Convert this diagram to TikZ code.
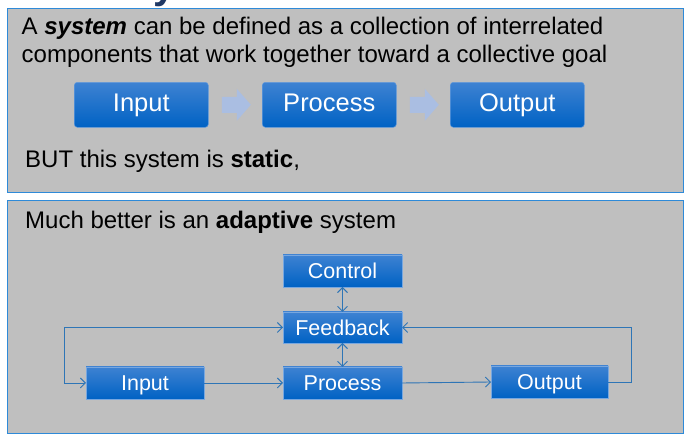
\documentclass[tikz,border=0pt]{standalone}
\usepackage{fontspec}
\setmainfont{Liberation Sans}
\usetikzlibrary{positioning, arrows.meta, calc}
\definecolor{sysgray}{RGB}{191,191,191}
\definecolor{sysframe}{RGB}{46,138,216}
\definecolor{systop}{RGB}{62,130,210}
\definecolor{sysbottom}{RGB}{0,98,196}
\definecolor{sysline}{RGB}{46,117,182}
\definecolor{sysarrow}{RGB}{170,190,226}
\definecolor{systitle}{RGB}{31,56,100}

\begin{document}
\begin{tikzpicture}[x=1pt, y=-1pt, >={Straight Barb[length=5pt, width=10pt]},
    panel/.style={draw=sysframe, line width=1.5pt, fill=sysgray},
    bigbox/.style={rounded corners=3pt, top color=systop, bottom color=sysbottom,
      draw=systop!80, line width=0.5pt, text=white, font=\fontsize{25.5}{30}\selectfont,
      text height=18.3pt, text depth=5.4pt,
      minimum width=134pt, minimum height=45pt, inner sep=0pt, outer sep=0pt},
    smallbox/.style={top color=systop, bottom color=sysbottom, draw=systop!70!white,
      line width=0.8pt, text=white, font=\fontsize{21.5}{26}\selectfont,
      text height=15.4pt, text depth=0pt,
      minimum height=32pt, inner sep=0pt, outer sep=0pt},
    fatarrow/.style={fill=sysarrow},
    link/.style={draw=sysline, line width=0.9pt},
    texte/.style={anchor=base west, inner sep=0pt, font=\fontsize{24}{28}\selectfont}]
  \useasboundingbox (0,0) rectangle (689,443);
  % reste du titre
  \begin{scope}
    \clip (0,0) rectangle (689,8);
    \node[anchor=base west, inner sep=0pt, text=systitle, font=\bfseries\fontsize{40}{40}\selectfont] (titre) at (153,-1.4) {y};
  \end{scope}
  % cadres
  \draw[panel] (7.3,8.3) rectangle (683.5,192.5);
  \draw[panel] (7.3,200.7) rectangle (683.5,433.3);
  % systeme statique
  \node[texte] (def1) at (21.5,35) {A \textbf{\textit{system}} can be defined as a collection of interrelated};
  \node[texte] (def2) at (21.5,63) {components that work together toward a collective goal};
  \node[bigbox] (in1) at (141.3,104.8) {Input};
  \node[bigbox, right=54pt of in1] (pr1) {Process};
  \node[bigbox, right=54pt of pr1] (out1) {Output};
  \foreach \a/\b in {in1/pr1, pr1/out1} {
    \coordinate (m) at ($(\a.east)!0.5!(\b.west)$);
    \fill[fatarrow] ($(m)+(-13.5,-8)$) -- ++(15,0) -- ++(0,-8) -- ++(14,16)
      -- ++(-14,16) -- ++(0,-8) -- ++(-15,0) -- cycle;
  }
  \node[texte] (static) at (25,168) {BUT this system is \textbf{static},};
  % systeme adaptatif
  \node[texte] (better) at (25,229) {Much better is an \textbf{adaptive} system};
  \node[smallbox, minimum width=119pt] (ctrl) at (342.5,271) {Control};
  \node[smallbox, minimum width=119pt, minimum height=31pt] (fb) at (342.5,327.5) {Feedback};
  \node[smallbox, minimum width=119pt] (pr2) at (342.5,383) {Process};
  \node[smallbox, minimum width=118pt] (in2) at (145,383) {Input};
  \node[smallbox, minimum width=117pt] (out2) at (549.5,382) {Output};
  \coordinate (gauche) at (64,327.5);
  \coordinate (droite) at (631,327.5);
  % liaisons
  \draw[link, ->] (in2) -- (pr2);
  \draw[link, ->] (pr2.east) -- (out2.west);
  \draw[link, <->] (ctrl) -- (fb);
  \draw[link, <->] (fb) -- (pr2);
  \draw[link, <->] (fb.west) -- (gauche) |- (in2.west);
  \draw[link, ->] (out2.east) -| (droite) -- (fb.east);
\end{tikzpicture}
\end{document}
